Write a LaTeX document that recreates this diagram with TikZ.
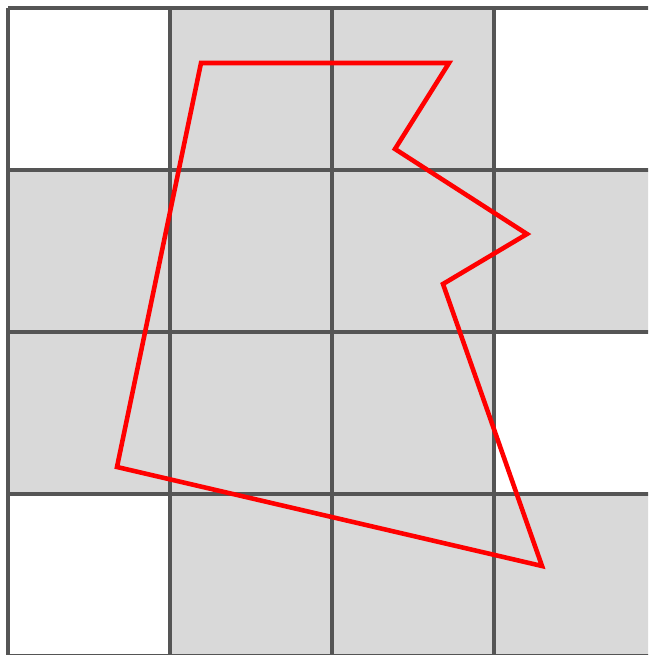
\documentclass[tikz,border=0pt]{standalone}
\usepackage{tikz}
\definecolor{gridgray}{RGB}{85,85,85}
\definecolor{cellgray}{RGB}{217,217,217}
\definecolor{outline}{RGB}{255,0,0}
\newcommand{\shadecell}[2]{%
  \fill[cellgray] (8+#1*162,8+#2*162) rectangle ++(162,162);%
}

\begin{document}
\begin{tikzpicture}[x=0.01cm,y=-0.01cm]

  \clip (0,0) rectangle (648,655);

  % shaded cells
  \foreach \c/\r in {1/0,2/0,0/1,1/1,2/1,3/1,0/2,1/2,2/2,1/3,2/3,3/3}
    \shadecell{\c}{\r};

  % grid
  \foreach \k in {0,...,4} {
    \draw[gridgray,line width=1pt] (8+\k*162,8) -- (8+\k*162,656);
    \draw[gridgray,line width=1pt] (8,8+\k*162) -- (656,8+\k*162);
  }

  % polygon
  \coordinate (p1) at (201,63);
  \coordinate (p2) at (449,63);
  \coordinate (p3) at (395,149);
  \coordinate (p4) at (527,234);
  \coordinate (p5) at (443,284);
  \coordinate (p6) at (542,566);
  \coordinate (p7) at (117,467);
  \draw[outline,line width=1.3pt,line join=miter]
    (p1) -- (p2) -- (p3) -- (p4) -- (p5) -- (p6) -- (p7) -- cycle;

\end{tikzpicture}
\end{document}
